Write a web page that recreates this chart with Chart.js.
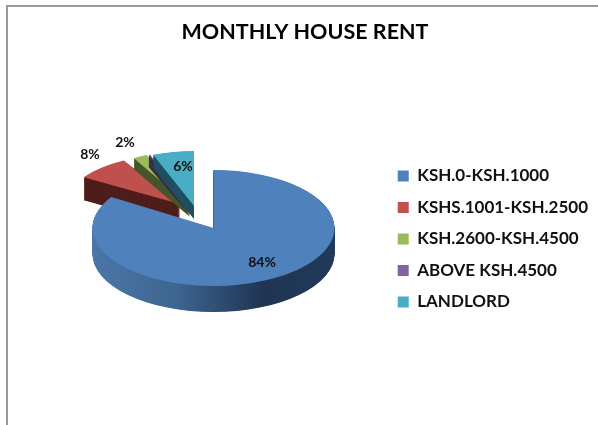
<!DOCTYPE html>
<html><head><meta charset="utf-8">
<style>html,body{margin:0;padding:0;background:#fff;overflow:hidden}
#wrap{position:absolute;left:0;top:0;width:598px;height:425px}
#top{position:absolute;left:6px;top:5px;width:592px;height:2px;background:#999}
#left{position:absolute;left:6px;top:5px;width:2px;height:420px;background:#999}
</style>
<script src="https://cdn.jsdelivr.net/npm/chart.js@4"></script>
</head><body>
<div id="wrap"><canvas id="c" width="598" height="425"></canvas><div id="top"></div><div id="left"></div></div>
<script>
const categories = ["KSH.0-KSH.1000","KSHS.1001-KSH.2500","KSH.2600-KSH.4500","ABOVE KSH.4500","LANDLORD"];
const rentShare = [84, 7.8, 2, 0.2, 6];
const topColors = ["#4f81bd","#c0504d","#9bbb59","#8064a2","#4bacc6"];
const wallColors = ["#2a4565","#4f1f1c","#46562a","#3a2d4c","#1f4f60"];
const titleText = "MONTHLY HOUSE RENT";

const CX=[213.5,180,190,192,194], CY=[228,204,206,206,206];
const RX=[121,114,114,114,111], RY=[58,50,55,55,55];
const DEPTH=[26,23,11,12,13];
const LABELS=[[262,262],[90,154],[125,142],null,[183,166]];

function placed(ctx,arc,i,dy){
  const s=RX[i]/arc.outerRadius, t=RY[i]/arc.outerRadius;
  ctx.translate(CX[i],CY[i]+dy);ctx.scale(s,t);ctx.translate(-arc.x,-arc.y);
}
const pie3d={id:'pie3d',
  beforeDatasetsDraw(chart){
    const ctx=chart.ctx, arcs=chart.getDatasetMeta(0).data;
    for(const i of [1,2,3,4,0]){
      const arc=arcs[i];
      let fill=wallColors[i];
      if(i===0){
        const g=ctx.createLinearGradient(92,0,335,0);
        g.addColorStop(0,"#4a76a8");g.addColorStop(.35,"#3e6590");
        g.addColorStop(.7,"#1f3552");g.addColorStop(1,"#22395a");
        fill=g;
      }
      for(let d=DEPTH[i];d>0;d-=0.5){
        ctx.save();placed(ctx,arc,i,d);
        ctx.beginPath();ctx.moveTo(arc.x,arc.y);
        ctx.arc(arc.x,arc.y,arc.outerRadius,arc.startAngle,arc.endAngle);
        ctx.closePath();
        ctx.restore();
        ctx.fillStyle=fill;ctx.fill();
      }
      ctx.save();placed(ctx,arc,i,0);arc.draw(ctx);ctx.restore();
    }
    ctx.save();ctx.fillStyle="#111";ctx.font="bold 14px Lato";ctx.textAlign="center";ctx.textBaseline="middle";
    rentShare.forEach((v,i)=>{ if(LABELS[i]) ctx.fillText(Math.round(v)+"%",LABELS[i][0],LABELS[i][1]); });
    ctx.restore();
    return false;
  }
};
new Chart(document.getElementById('c'),{
  type:'pie',
  data:{labels:categories,datasets:[{data:rentShare,backgroundColor:topColors,borderWidth:0}]},
  plugins:[pie3d],
  options:{responsive:false,animation:false,
    layout:{padding:{top:0,right:0,bottom:0,left:12}},
    plugins:{
      title:{display:true,text:titleText,color:"#000",font:{family:"Lato",size:21.5,weight:"bold"},padding:{top:19,bottom:8},align:"center",fullSize:true},
      tooltip:{enabled:false},
      legend:{position:'right',align:'center',fullSize:false,
        labels:{color:"#111",boxWidth:11,boxHeight:11,padding:14.5,font:{family:"Lato",size:17,weight:"bold"}}}
    }
  }
});
</script></body></html>
